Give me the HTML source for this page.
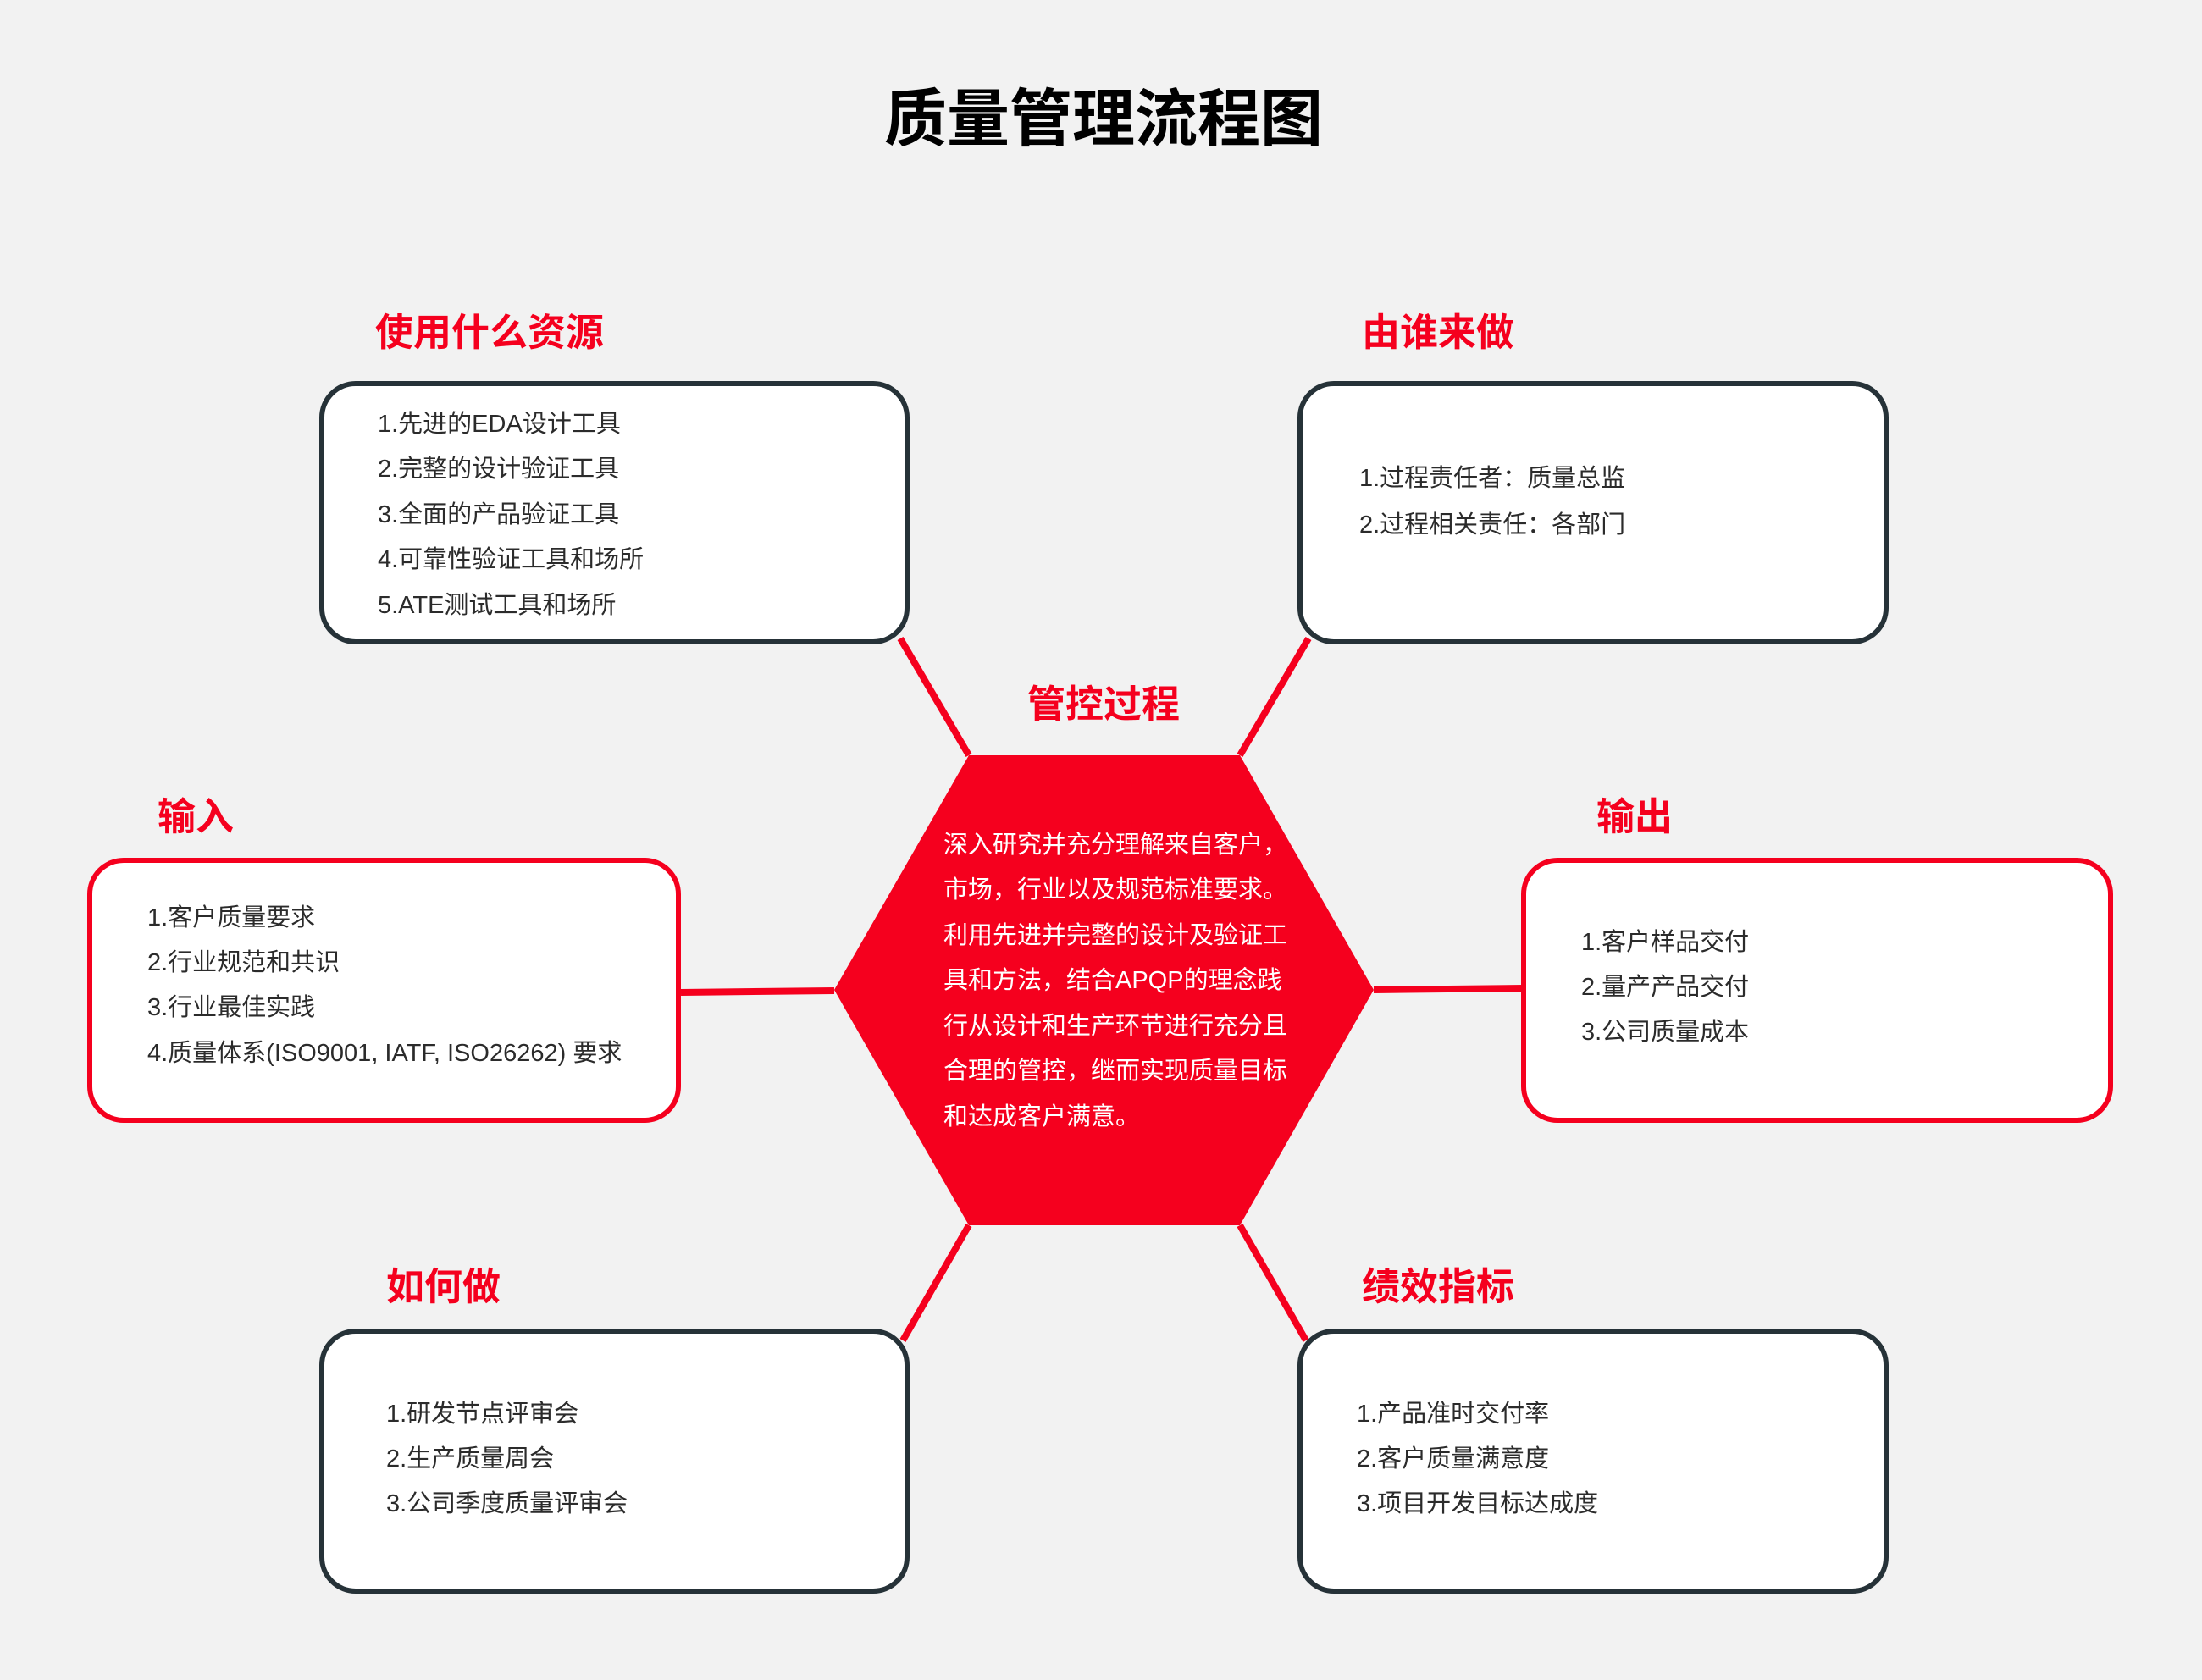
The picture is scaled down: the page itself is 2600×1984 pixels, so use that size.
<!DOCTYPE html>
<html><head><meta charset="utf-8"><style>
body{margin:0;width:2600px;height:1984px;background:#f2f2f2;position:relative;overflow:hidden;font-family:"Liberation Sans","Noto Sans CJK SC",sans-serif}
.t{position:absolute;white-space:nowrap;line-height:1}
.lab{color:#f5001e;font-weight:bold;font-size:45px}
.bx{color:#2b2b2b;font-size:29px}
.hx{color:#fff;font-size:29px}
</style></head><body>
<svg width="2600" height="1984" style="position:absolute;left:0;top:0">
<g stroke="#f5001e" stroke-width="8" fill="none">
<line x1="1063" y1="754" x2="1144" y2="892"/>
<line x1="1545" y1="754" x2="1464" y2="892"/>
<line x1="804" y1="1172" x2="985" y2="1170"/>
<line x1="1622" y1="1169" x2="1799" y2="1167"/>
<line x1="1144" y1="1447" x2="1066" y2="1583"/>
<line x1="1464" y1="1447" x2="1542" y2="1583"/>
</g>
<polygon points="1144,892 1464,892 1622,1169 1464,1447 1144,1447 985,1169" fill="#f5001e"/>
<g fill="#fff" stroke-width="6">
<rect x="380" y="453" width="691" height="305" rx="40" stroke="#263238"/>
<rect x="1535" y="453" width="692" height="305" rx="40" stroke="#263238"/>
<rect x="106" y="1016" width="695" height="307" rx="40" stroke="#f5001e"/>
<rect x="1799" y="1016" width="693" height="307" rx="40" stroke="#f5001e"/>
<rect x="380" y="1572" width="691" height="307" rx="40" stroke="#263238"/>
<rect x="1535" y="1572" width="692" height="307" rx="40" stroke="#263238"/>
</g>
</svg>
<div class="t" style="left:1044px;top:104px;font-size:74px;font-weight:bold;color:#000">质量管理流程图</div>
<div class="t lab" style="left:443px;top:370px">使用什么资源</div>
<div class="t lab" style="left:1608px;top:370px">由谁来做</div>
<div class="t lab" style="left:1213px;top:809px">管控过程</div>
<div class="t lab" style="left:186px;top:942px">输入</div>
<div class="t lab" style="left:1885px;top:942px">输出</div>
<div class="t lab" style="left:456px;top:1497px">如何做</div>
<div class="t lab" style="left:1608px;top:1497px">绩效指标</div>

<div class="t bx" style="left:446px;top:487px">1.先进的EDA设计工具</div>
<div class="t bx" style="left:446px;top:540px">2.完整的设计验证工具</div>
<div class="t bx" style="left:446px;top:594px">3.全面的产品验证工具</div>
<div class="t bx" style="left:446px;top:647px">4.可靠性验证工具和场所</div>
<div class="t bx" style="left:446px;top:701px">5.ATE测试工具和场所</div>

<div class="t bx" style="left:1605px;top:551px">1.过程责任者：质量总监</div>
<div class="t bx" style="left:1605px;top:606px">2.过程相关责任：各部门</div>

<div class="t bx" style="left:174px;top:1070px">1.客户质量要求</div>
<div class="t bx" style="left:174px;top:1123px">2.行业规范和共识</div>
<div class="t bx" style="left:174px;top:1176px">3.行业最佳实践</div>
<div class="t bx" style="left:174px;top:1230px">4.质量体系(ISO9001, IATF, ISO26262) 要求</div>

<div class="t bx" style="left:1867px;top:1099px">1.客户样品交付</div>
<div class="t bx" style="left:1867px;top:1152px">2.量产产品交付</div>
<div class="t bx" style="left:1867px;top:1205px">3.公司质量成本</div>

<div class="t bx" style="left:456px;top:1656px">1.研发节点评审会</div>
<div class="t bx" style="left:456px;top:1709px">2.生产质量周会</div>
<div class="t bx" style="left:456px;top:1762px">3.公司季度质量评审会</div>

<div class="t bx" style="left:1602px;top:1656px">1.产品准时交付率</div>
<div class="t bx" style="left:1602px;top:1709px">2.客户质量满意度</div>
<div class="t bx" style="left:1602px;top:1762px">3.项目开发目标达成度</div>

<div class="t hx" style="left:1114px;top:984px">深入研究并充分理解来自客户，</div>
<div class="t hx" style="left:1114px;top:1037px">市场，行业以及规范标准要求。</div>
<div class="t hx" style="left:1114px;top:1091px">利用先进并完整的设计及验证工</div>
<div class="t hx" style="left:1114px;top:1144px">具和方法，结合APQP的理念践</div>
<div class="t hx" style="left:1114px;top:1198px">行从设计和生产环节进行充分且</div>
<div class="t hx" style="left:1114px;top:1251px">合理的管控，继而实现质量目标</div>
<div class="t hx" style="left:1114px;top:1305px">和达成客户满意。</div>
</body></html>
